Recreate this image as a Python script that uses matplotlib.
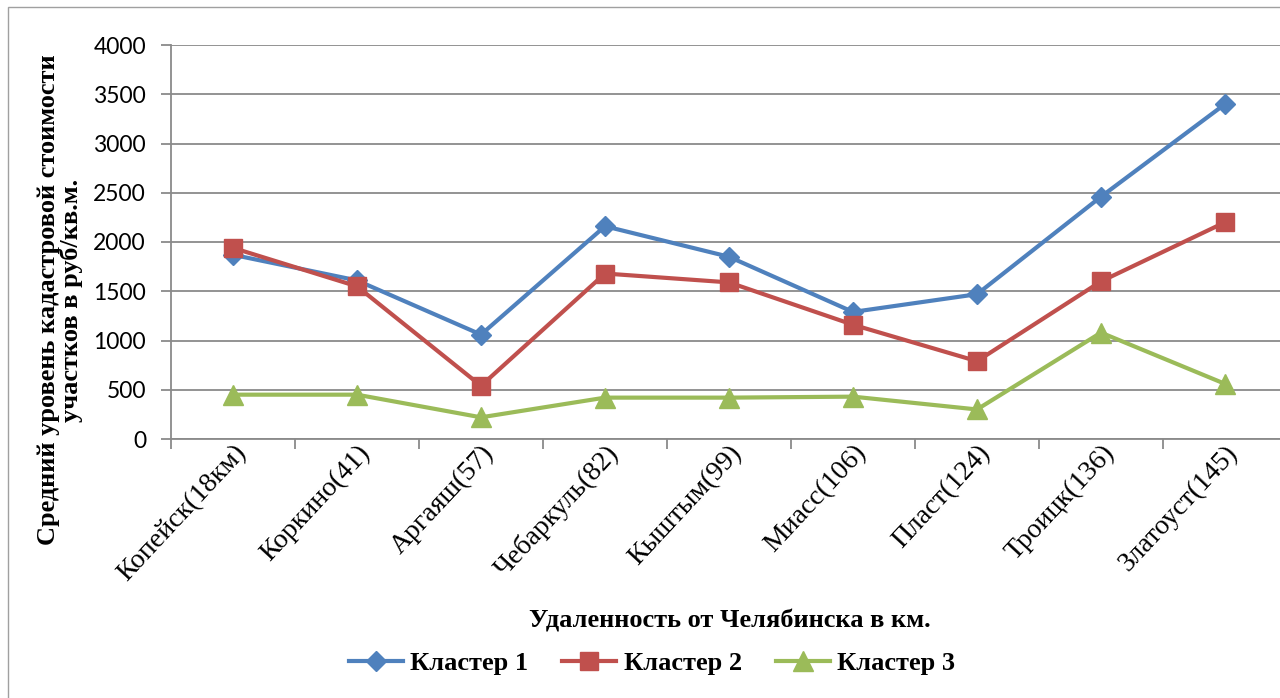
import numpy as np
import matplotlib
matplotlib.use('Agg')
import matplotlib.pyplot as plt
from matplotlib.patches import Rectangle

# Данные
goroda = ['Копейск(18км)', 'Коркино(41)', 'Аргаяш(57)', 'Чебаркуль(82)',
          'Кыштым(99)', 'Миасс(106)', 'Пласт(124)', 'Троицк(136)',
          'Златоуст(145)']
klaster1 = [1870, 1610, 1060, 2160, 1850, 1290, 1470, 2460, 3400]
klaster2 = [1940, 1550, 540, 1680, 1590, 1160, 790, 1600, 2200]
klaster3 = [450, 450, 220, 420, 420, 430, 300, 1080, 560]
nombres = ['Кластер 1', 'Кластер 2', 'Кластер 3']
yticks = [0, 500, 1000, 1500, 2000, 2500, 3000, 3500, 4000]

serif = ['Liberation Serif', 'DejaVu Serif']
sans = ['Lato', 'DejaVu Sans']

fig = plt.figure(figsize=(12.8, 6.98), dpi=100)
ax = fig.add_axes([171 / 1280, 1 - 439 / 698, 1116 / 1280, 394 / 698])

# Marco gris del grafico
fig.patches.append(Rectangle((8 / 1280, -0.05), 1.1, 1 - 7 / 698 + 0.05,
                             transform=fig.transFigure, fill=False,
                             edgecolor='#a0a0a0', linewidth=1.0))

x = np.arange(len(goroda))
estilos = [('#4F81BD', 'D', 10), ('#C0504D', 's', 13.5), ('#9BBB59', '^', 14)]
for serie, nombre, (col, mk, ms) in zip([klaster1, klaster2, klaster3],
                                        nombres, estilos):
    ax.plot(x, serie, color=col, marker=mk, markersize=ms, linewidth=3,
            label=nombre, zorder=3)

ax.set_xlim(-0.5, len(goroda) - 0.5)
ax.set_ylim(0, 4000)
ax.set_yticks(yticks)
ax.grid(axis='y', color='#8a8a8a', linewidth=1.3)
ax.set_axisbelow(True)

for s in ['top', 'right']:
    ax.spines[s].set_visible(False)
for s in ['left', 'bottom']:
    ax.spines[s].set_color('#8a8a8a')
    ax.spines[s].set_linewidth(1.3)

# Ticks en los limites de categoria (estilo Excel)
ax.set_xticks(np.arange(-0.5, len(goroda) + 0.5, 1.0))
ax.set_xticklabels([])
ax.set_xticks(x, minor=True)
ax.set_xticklabels(goroda, minor=True, rotation=47, ha='right',
                   rotation_mode='anchor', family=serif, fontsize=20)
ax.tick_params(axis='x', which='minor', length=0, pad=1)
ax.tick_params(axis='x', which='major', length=7, color='#8a8a8a', width=1.3)
ax.tick_params(axis='y', length=7, color='#8a8a8a', width=1.3, pad=11)
for lab in ax.get_yticklabels():
    lab.set_family(sans)
    lab.set_fontsize(16.5)

fig.text(730 / 1280, 1 - 621 / 698, 'Удаленность от Челябинска в км.',
         ha='center', va='center', family=serif, fontsize=19,
         fontweight='bold')
fig.text(60 / 1280, 1 - 300 / 698,
         'Средний уровень кадастровой стоимости\nучастков в руб/кв.м.',
         ha='center', va='center', rotation=90, family=serif, fontsize=19,
         fontweight='bold', linespacing=1.0)

fig.legend(loc='center', bbox_to_anchor=(652 / 1280, 1 - 663 / 698),
           ncol=3, frameon=False, handlelength=2.05, columnspacing=1.3,
           handletextpad=0.27, borderpad=0.2,
           prop={'family': serif, 'size': 19, 'weight': 'bold'})

fig.savefig('out.png', dpi=100)
